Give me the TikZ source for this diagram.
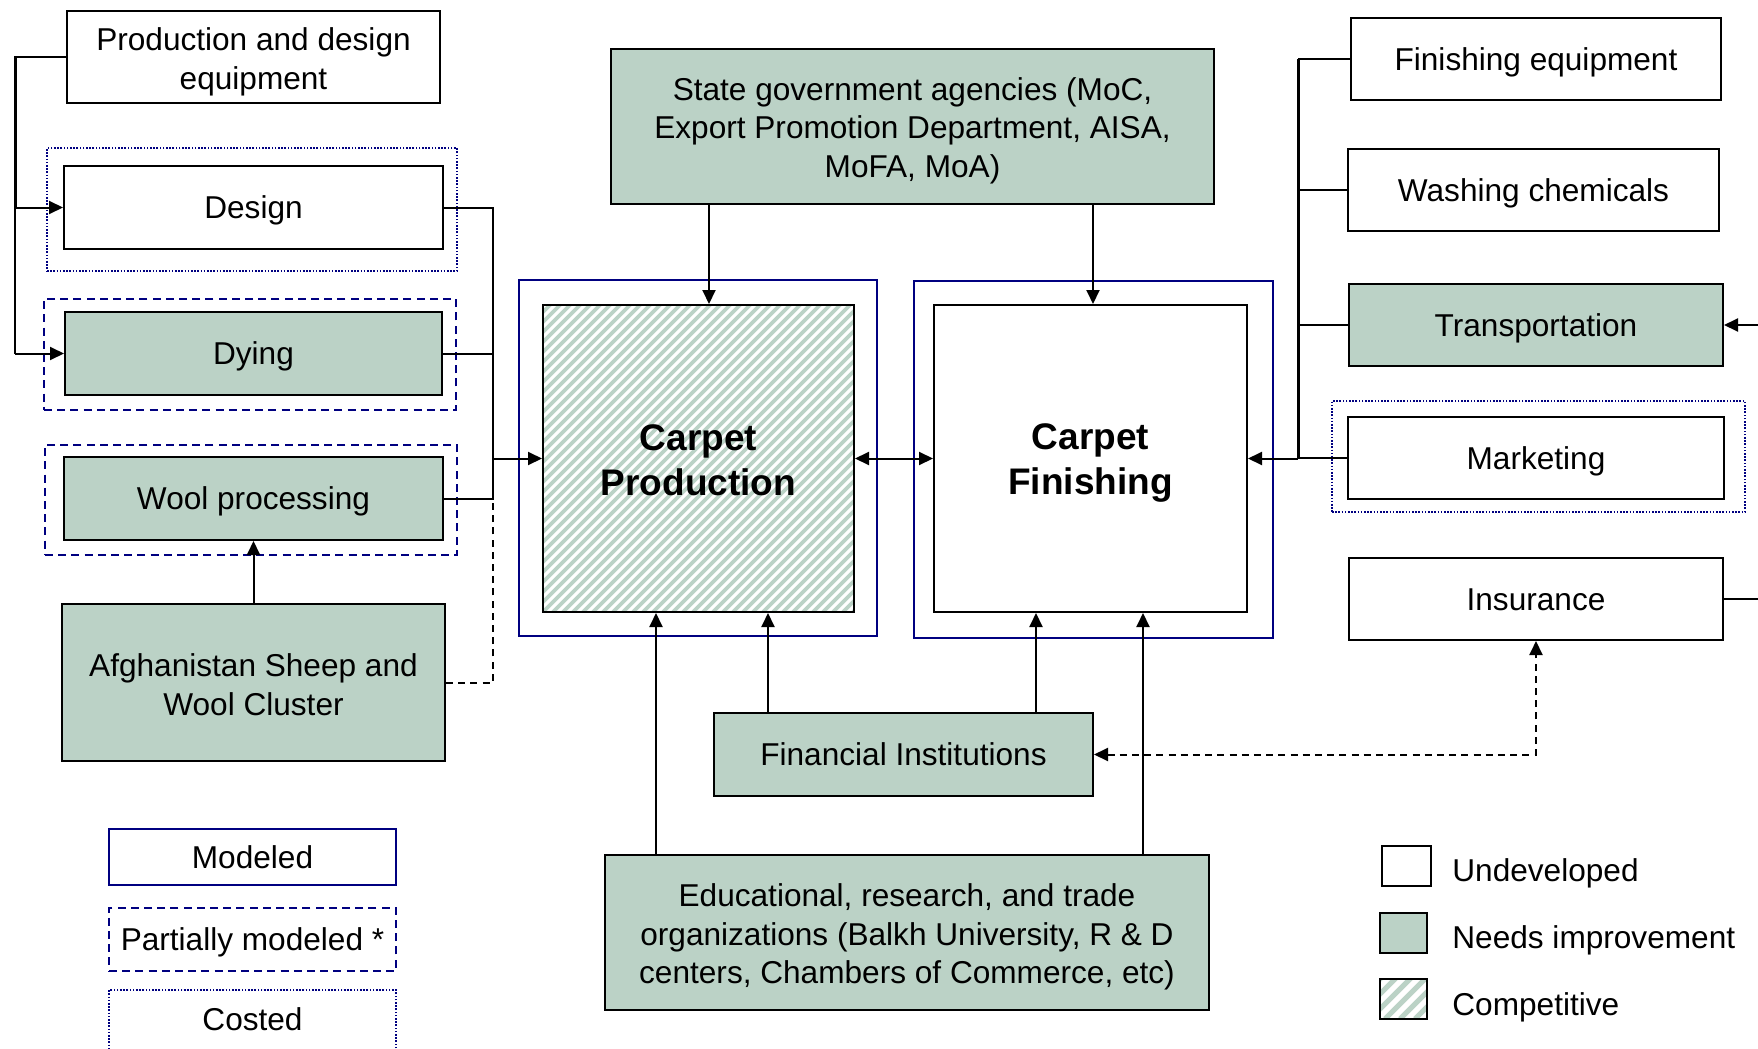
\documentclass[tikz,border=0pt]{standalone}
\usepackage{fontspec}
\setmainfont{Liberation Sans}
\usetikzlibrary{fit,calc,arrows.meta}
\definecolor{sage}{RGB}{187,210,198}
\definecolor{navyframe}{RGB}{0,0,128}
\begin{document}
\begin{tikzpicture}[x=0.5pt,y=-0.5pt,
  mtxt/.style={font=\fontsize{15.8}{19.3}\selectfont, align=center, text=black, inner sep=0pt},
  txt/.style={mtxt, text height=11.3pt, text depth=0pt},
  bigtxt/.style={mtxt, font=\bfseries\fontsize{18.5}{22.5}\selectfont},
  box/.style={draw=black, line width=1pt, inner sep=0pt, fill=white},
  needs/.style={box, fill=sage},
  caption/.style={label={[txt]center:{#1}}},
  mcaption/.style n args={2}{label={[mtxt, yshift=#2]center:{#1}}},
  bigcaption/.style n args={2}{label={[bigtxt, yshift=#2]center:{#1}}},
  stripes/.style 2 args={path picture={
    \foreach \i in {0,#1,...,860}
      \draw[draw=sage, line width=#2]
        ($(path picture bounding box.south west)+(\i-430,0)$) -- ++(470,-470);
  }},
  modeledframe/.style={draw=navyframe, line width=0.9pt, inner sep=0pt},
  partialframe/.style={modeledframe, dash pattern=on 4pt off 2.6pt},
  costedframe/.style={modeledframe, line width=0.8pt, dash pattern=on 0.8pt off 0.8pt},
  conn/.style={draw=black, line width=1pt},
  bus/.style={conn, line width=1.5pt},
  arr/.style={conn, -{Triangle[length=7pt,width=6.5pt]}},
  biarr/.style={conn, {Triangle[length=7pt,width=6.5pt]}-{Triangle[length=7pt,width=6.5pt]}},
  dashconn/.style={conn, dash pattern=on 3.5pt off 2.6pt},
]
\useasboundingbox (0,0) rectangle (1758,1049);

% ---- frames marking the modelling status ----
\node[costedframe, fit={(47,148) (457,271)}] (designframe) {};
\node[partialframe, fit={(44,299) (456,410)}] (dyingframe) {};
\node[partialframe, fit={(45,445) (457,555)}] (woolframe) {};
\node[modeledframe, fit={(519,280) (877,636)}] (prodframe) {};
\node[modeledframe, fit={(914,281) (1273,638)}] (finframe) {};
\node[costedframe, fit={(1332,401) (1745,512)}] (mkframe) {};

% ---- left column ----
\node[box, fit={(67,11) (440,103)}, mcaption={Production and design\\equipment}{-2.5pt}] (pe) {};
\node[box, fit={(64,166) (443,249)}, caption={Design}] (design) {};
\node[needs, fit={(65,312) (442,395)}, caption={Dying}] (dying) {};
\node[needs, fit={(64,457) (443,540)}, caption={Wool processing}] (wool) {};
\node[needs, fit={(62,604) (445,761)}, mcaption={Afghanistan Sheep and\\Wool Cluster}{-1pt}] (afg) {};

% ---- centre ----
\node[needs, fit={(611,49) (1214,204)},
      mcaption={State government agencies (MoC,\\Export Promotion Department, AISA,\\MoFA, MoA)}{-2pt}] (state) {};
\node[box, stripes={10}{1.9pt}, fit={(543,305) (854,612)},
      bigcaption={Carpet\\Production}{-1.1pt}] (prod) {};
\node[box, fit={(934,305) (1247,612)}, bigcaption={Carpet\\Finishing}{-2.4pt}] (fin) {};
\node[needs, fit={(714,713) (1093,796)}, caption={Financial Institutions}] (fininst) {};
\node[needs, fit={(605,855) (1209,1010)},
      mcaption={Educational, research, and trade\\organizations (Balkh University, R \& D\\centers, Chambers of Commerce, etc)}{-2.2pt}] (edu) {};

% ---- right column ----
\node[box, fit={(1351,18) (1721,100)}, caption={Finishing equipment}] (fe) {};
\node[box, fit={(1348,149) (1719,231)}, caption={Washing chemicals}] (wc) {};
\node[needs, fit={(1349,284) (1723,366)}, caption={Transportation}] (tr) {};
\node[box, fit={(1348,417) (1724,499)}, caption={Marketing}] (mk) {};
\node[box, fit={(1349,558) (1723,640)}, caption={Insurance}] (ins) {};

% ---- legends ----
\node[modeledframe, fill=white, fit={(109,829) (396,885)}, caption={Modeled}] (lgmod) {};
\node[partialframe, fill=white, fit={(109,908) (396,971)}, caption={Partially modeled *}] (lgpart) {};
\node[costedframe, fill=white, fit={(109,990) (396,1075)}] (lgcost) {};
\node[txt] (lgcosttxt) at (252.5,1019) {Costed};

\node[box, fit={(1382,846) (1431,886)}] (lgund) {};
\node[needs, fit={(1380,913) (1427,953)}] (lgneed) {};
\node[box, stripes={15}{2.6pt}, fit={(1380,979) (1427,1019)}] (lgcomp) {};
\node[txt, anchor=west] (lgundtxt) at (1452,870) {Undeveloped};
\node[txt, anchor=west] (lgneedtxt) at (1452,937) {Needs improvement};
\node[txt, anchor=west] (lgcomptxt) at (1452,1004) {Competitive};

% ---- bus positions and free ends ----
\coordinate (lbus) at (15,0);
\coordinate (rbusL) at (493,0);
\coordinate (rbusR) at (1298,0);
\coordinate (edgeR) at (1758,0);
\coordinate (sa) at (709,0);
\coordinate (sb) at (1093,0);
\coordinate (fa) at (768,0);
\coordinate (fb) at (1036,0);
\coordinate (ea) at (656,0);
\coordinate (eb) at (1143,0);

% ---- left connectors ----
\draw[conn] (pe.west) -| (lbus |- dying.west);
\draw[bus] (pe.west -| lbus) -- (lbus |- design.west);
\draw[arr] (lbus |- design.west) -- (design.west);
\draw[arr] (lbus |- dying.west) -- (dying.west);

\draw[conn] (design.east) -| (rbusL |- wool.east) -- (wool.east);
\draw[conn] (dying.east) -- (rbusL |- dying.east);
\draw[arr] (rbusL |- prod.west) -- (prod.west);
\draw[arr] (afg.north) -- (wool.south);
\draw[dashconn] (afg.east) -| (rbusL |- prod.west);

% ---- central connectors ----
\draw[arr] (sa |- state.south) -- (sa |- prod.north);
\draw[arr] (sb |- state.south) -- (sb |- fin.north);
\draw[biarr] (prod.east) -- (fin.west);
\draw[arr] (fa |- fininst.north) -- (fa |- prod.south);
\draw[arr] (fb |- fininst.north) -- (fb |- fin.south);
\draw[arr] (ea |- edu.north) -- (ea |- prod.south);
\draw[arr] (eb |- edu.north) -- (eb |- fin.south);

% ---- right connectors ----
\draw[conn] (fe.west) -- (rbusR |- fe.west);
\draw[conn] (wc.west) -- (rbusR |- wc.west);
\draw[conn] (tr.west) -- (rbusR |- tr.west);
\draw[conn] (mk.west) -- (rbusR |- mk.west);
\draw[bus] (rbusR |- fe.west) -- (rbusR |- fin.east);
\draw[arr] (rbusR |- fin.east) -- (fin.east);
\draw[arr] (edgeR |- tr.east) -- (tr.east);
\draw[conn] (ins.east) -- (edgeR |- ins.east);
\draw[dashconn, {Triangle[length=7pt,width=6.5pt]}-{Triangle[length=7pt,width=6.5pt]}]
  (fininst.east) -| (ins.south);
\end{tikzpicture}
\end{document}
